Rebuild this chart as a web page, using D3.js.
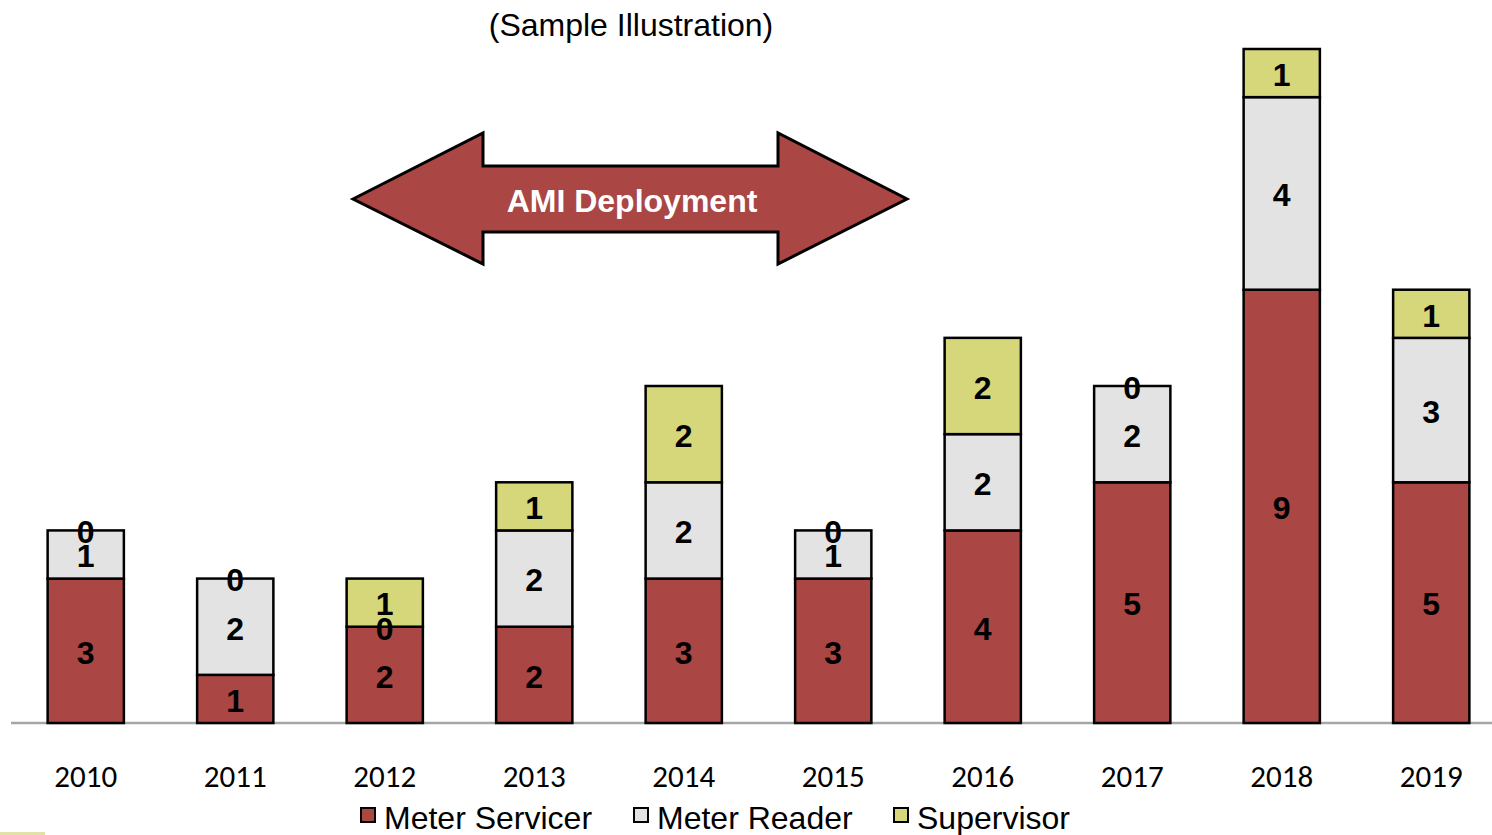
<!DOCTYPE html>
<html><head><meta charset="utf-8">
<script src="https://cdn.jsdelivr.net/npm/d3@7/dist/d3.min.js"></script>
<style>body{margin:0;background:#fff}svg{display:block}</style>
</head><body>
<svg id="c" width="1492" height="835"></svg>
<script>
const years = ["2010","2011","2012","2013","2014","2015","2016","2017","2018","2019"];
const seriesNames = ["Meter Servicer","Meter Reader","Supervisor"];
const meterServicer = [3,1,2,2,3,3,4,5,9,5];
const meterReader   = [1,2,0,2,2,1,2,2,4,3];
const supervisor    = [0,0,1,1,2,0,2,0,1,1];
const colors = ["#AA4643","#E3E3E3","#D6D67A"];
const titleText = "(Sample Illustration)";
const arrowText = "AMI Deployment";

const svg = d3.select("#c");
const rows = years.map((y,i)=>({year:y, "Meter Servicer":meterServicer[i], "Meter Reader":meterReader[i], "Supervisor":supervisor[i]}));
const stacked = d3.stack().keys(seriesNames)(rows);

const x = d3.scaleBand().domain(years).range([11,1506]).paddingInner(0.49).paddingOuter(0.245);
const y = d3.scaleLinear().domain([0,14]).range([723,49]);

// axis
const ax = svg.append("g").attr("transform","translate(0,723)")
  .call(d3.axisBottom(x).tickSize(0).tickPadding(0));
ax.select(".domain").attr("stroke","#A6A6A6").attr("stroke-width",2.5).attr("d","M11,0H1492");
ax.selectAll("text").attr("y",53).attr("dy","0.35em")
  .attr("font-family","Carlito, 'Liberation Sans', Arial, sans-serif").attr("font-size",31).attr("fill","#000");

// bars
const g = svg.append("g");
stacked.forEach((s,si)=>{
  g.selectAll(null).data(s).enter().append("rect")
    .attr("x",d=>x(d.data.year)).attr("width",x.bandwidth())
    .attr("y",d=>y(d[1])).attr("height",d=>y(d[0])-y(d[1]))
    .attr("fill",colors[si]).attr("stroke","#000").attr("stroke-width",2.5);
});
stacked.forEach((s,si)=>{
  g.selectAll(null).data(s).enter().append("text")
    .attr("x",d=>x(d.data.year)+x.bandwidth()/2)
    .attr("y",d=>(y(d[0])+y(d[1]))/2)
    .attr("dy","0.4em").attr("text-anchor","middle")
    .attr("font-family","'Liberation Sans', Arial, sans-serif").attr("font-weight","bold")
    .attr("font-size",32).attr("fill","#000")
    .text(d=>d[1]-d[0]);
});

// title
svg.append("text").attr("x",631).attr("y",24).attr("dy","0.36em").attr("text-anchor","middle")
  .attr("font-family","'Liberation Sans', Arial, sans-serif").attr("font-size",32).attr("fill","#000")
  .text(titleText);

// arrow
const ap = d3.path();
ap.moveTo(353,199); ap.lineTo(483,133); ap.lineTo(483,166); ap.lineTo(778,166); ap.lineTo(778,133);
ap.lineTo(907,199); ap.lineTo(778,264); ap.lineTo(778,232); ap.lineTo(483,232); ap.lineTo(483,264); ap.closePath();
svg.append("path").attr("d",ap.toString()).attr("fill","#AA4643").attr("stroke","#000").attr("stroke-width",3).attr("stroke-linejoin","miter");
svg.append("text").attr("x",632).attr("y",200).attr("dy","0.36em").attr("text-anchor","middle")
  .attr("font-family","'Liberation Sans', Arial, sans-serif").attr("font-weight","bold").attr("font-size",32).attr("fill","#fff")
  .text(arrowText);

// legend
const legX = [361, 634, 894];
const leg = svg.append("g");
seriesNames.forEach((n,i)=>{
  leg.append("rect").attr("x",legX[i]).attr("y",808).attr("width",14).attr("height",14)
    .attr("fill",colors[i]).attr("stroke","#000").attr("stroke-width",2);
  leg.append("text").attr("x",legX[i]+23).attr("y",817).attr("dy","0.36em")
    .attr("font-family","'Liberation Sans', Arial, sans-serif").attr("font-size",32).attr("fill","#000")
    .text(n);
});
svg.append("rect").attr("x",0).attr("y",832).attr("width",45).attr("height",3).attr("fill","#E2E2A8");
</script>
</body></html>
